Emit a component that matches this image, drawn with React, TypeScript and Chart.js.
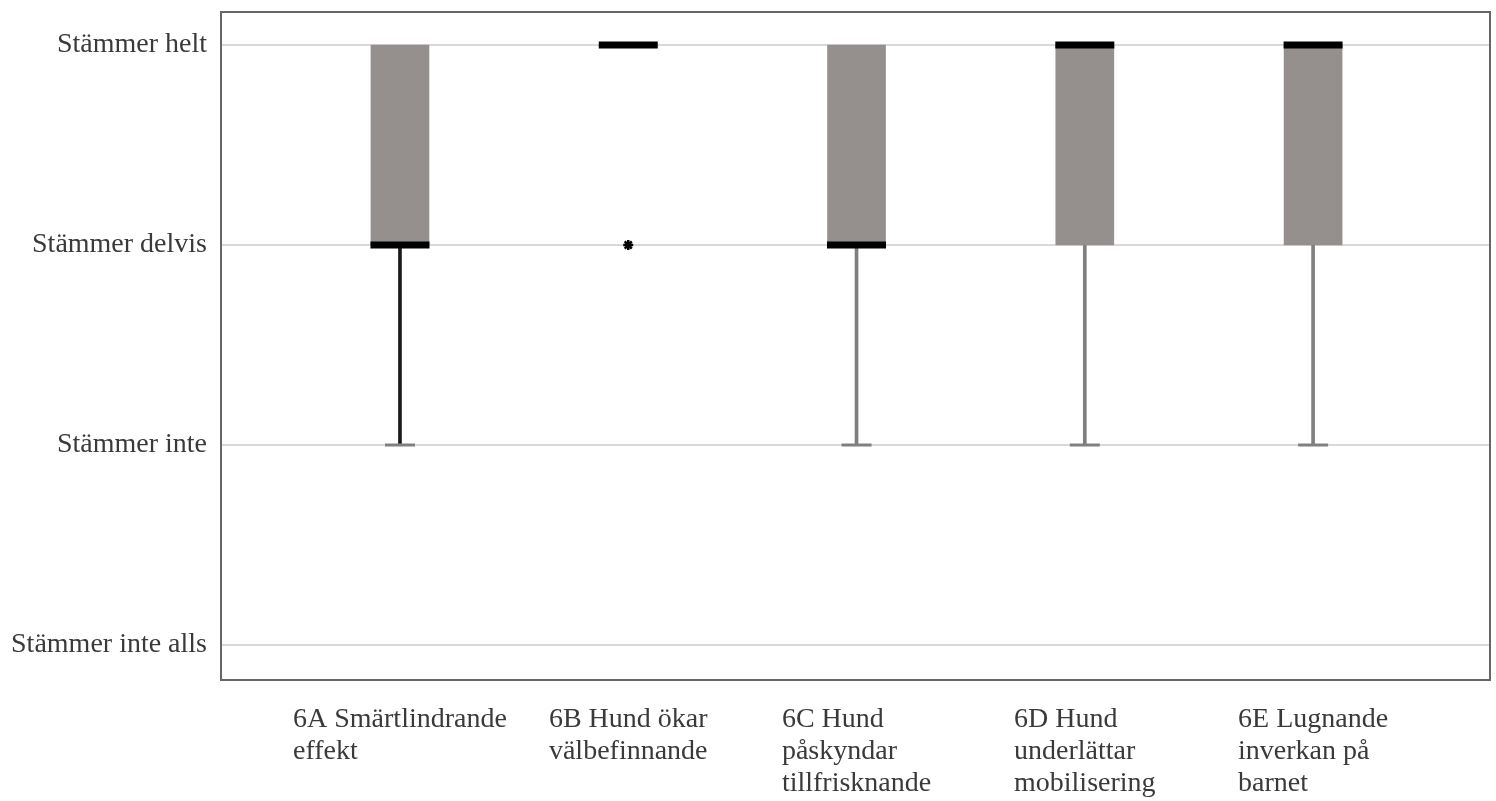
import React, { useEffect, useRef } from "react";
import { Chart, registerables } from "chart.js";

Chart.register(...registerables);

const categories: string[][] = [
  ["6A Smärtlindrande", "effekt"],
  ["6B Hund ökar", "välbefinnande"],
  ["6C Hund", "påskyndar", "tillfrisknande"],
  ["6D Hund", "underlättar", "mobilisering"],
  ["6E Lugnande", "inverkan på", "barnet"],
];
const yLabels: string[] = ["Stämmer inte alls", "Stämmer inte", "Stämmer delvis", "Stämmer helt"];
const yValues: number[] = [1, 2, 3, 4];

const q1: (number | null)[] = [3, null, 3, 3, 3];
const q3: (number | null)[] = [4, null, 4, 4, 4];
const median: number[] = [3, 4, 3, 4, 4];
const whiskerLow: (number | null)[] = [2, null, 2, 2, 2];
const outlierCat: number[] = [1];
const outlierVal: number[] = [3];

const whiskerColors = ["#1a1a1a", "#7f7f7f", "#7f7f7f", "#7f7f7f", "#7f7f7f"];
const FONT = '"Liberation Serif", "Times New Roman", serif';
const TEXT = "#3a3a3a";

const xLabelPlugin = {
  id: "xLabels",
  afterDraw(chart: any) {
    const { ctx, chartArea } = chart;
    const xs = chart.scales.x;
    ctx.save();
    ctx.strokeStyle = "#666666";
    ctx.lineWidth = 2;
    ctx.strokeRect(chartArea.left, chartArea.top, chartArea.right - chartArea.left, chartArea.bottom - chartArea.top);
    ctx.font = `28px ${FONT}`;
    ctx.fillStyle = TEXT;
    ctx.textBaseline = "middle";
    ctx.textAlign = "left";
    categories.forEach((lines, i) => {
      const cx = xs.getPixelForValue(i);
      const w = Math.max(...lines.map((l) => ctx.measureText(l).width));
      const left = cx - w / 2;
      lines.forEach((l, j) => {
        ctx.fillText(l, left, chartArea.bottom + 40 + j * 32);
      });
    });
    ctx.restore();
  },
};

export default function App() {
  const ref = useRef<HTMLCanvasElement>(null);
  useEffect(() => {
    if (!ref.current) return;
    const idx = categories.map((_, i) => i);
    const chart = new Chart(ref.current, {
      type: "bar",
      data: {
        datasets: [
          {
            type: "bar",
            data: idx.filter((i) => whiskerLow[i] !== null).map((i) => ({ x: i, y: [whiskerLow[i], q1[i]] })) as any,
            backgroundColor: idx.filter((i) => whiskerLow[i] !== null).map((i) => whiskerColors[i]),
            barThickness: 3,
            grouped: false,
            order: 5,
          } as any,
          {
            type: "scatter",
            data: idx.filter((i) => whiskerLow[i] !== null).map((i) => ({ x: i, y: whiskerLow[i] })) as any,
            pointStyle: "line",
            radius: 15,
            borderWidth: 3,
            borderColor: "#808080",
            order: 4,
          } as any,
          {
            type: "bar",
            data: idx.filter((i) => q1[i] !== null).map((i) => ({ x: i, y: [q1[i], q3[i]] })) as any,
            backgroundColor: "#95908e",
            barThickness: 58,
            grouped: false,
            order: 3,
          } as any,
          {
            type: "scatter",
            data: idx.map((i) => ({ x: i, y: median[i] })),
            pointStyle: "line",
            radius: 29.5,
            borderWidth: 7,
            borderColor: "#000000",
            order: 1,
          } as any,
          {
            type: "scatter",
            data: outlierCat.map((c, k) => ({ x: c, y: outlierVal[k] })),
            pointStyle: "star",
            radius: 5,
            borderWidth: 2.5,
            borderColor: "#000000",
            backgroundColor: "#000000",
            order: 0,
          } as any,
        ],
      },
      options: {
        animation: false,
        responsive: true,
        maintainAspectRatio: false,
        layout: { autoPadding: false, padding: { top: 12, right: 6, left: 0, bottom: 0 } },
        plugins: { legend: { display: false }, tooltip: { enabled: false } },
        scales: {
          x: {
            type: "linear",
            offset: false,
            min: -0.784,
            max: 4.775,
            grid: { display: false, drawTicks: false, offset: false },
            border: { display: false },
            ticks: { display: false },
            afterFit: (s: any) => {
              s.height = 121;
              s.paddingLeft = 0;
              s.paddingRight = 0;
            },
          },
          y: {
            type: "linear",
            min: 0.825,
            max: 4.165,
            grid: { color: "#d9d9d9", lineWidth: 2, drawTicks: false },
            border: { display: false },
            afterBuildTicks: (s: any) => {
              s.ticks = yValues.map((v) => ({ value: v }));
            },
            ticks: {
              padding: 14,
              color: TEXT,
              font: { family: FONT, size: 28 },
              callback: (v: any) => {
                const k = yValues.indexOf(Number(v));
                return k >= 0 ? yLabels[k] : "";
              },
            },
            afterFit: (s: any) => {
              s.width = 221;
              s.paddingTop = 0;
              s.paddingBottom = 0;
            },
          },
        },
      } as any,
      plugins: [xLabelPlugin],
    });
    return () => chart.destroy();
  }, []);
  return (
    <div style={{ position: "fixed", left: 0, top: 0, width: 1496, height: 801, background: "#fff" }}>
      <canvas ref={ref} />
    </div>
  );
}
